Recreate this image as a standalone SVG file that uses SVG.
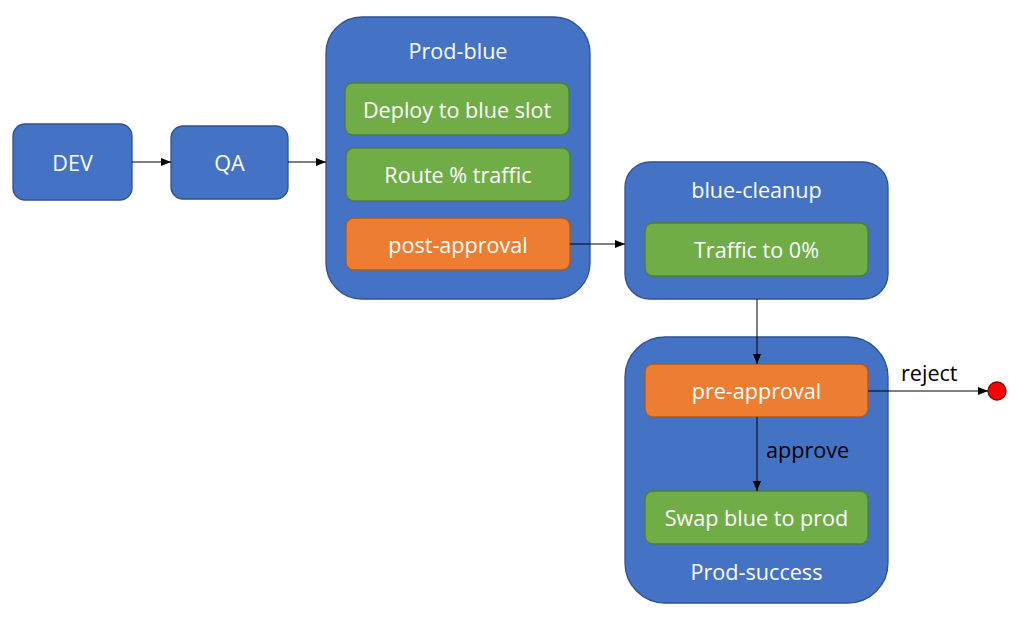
<svg xmlns="http://www.w3.org/2000/svg" width="1024" height="621" viewBox="0 0 1024 621">
<style>
.blue{fill:#4472C4;stroke:#2F528F;stroke-width:1.3}
.green{fill:#70AD47;stroke:#507E32;stroke-width:1.3}
.orange{fill:#ED7D31;stroke:#AE5A21;stroke-width:1.3}
.t{font-family:"Open Sans","Noto Sans",sans-serif;font-size:21.6px;fill:#fff;text-anchor:middle;dominant-baseline:central}
.lbl{font-family:"Open Sans","Noto Sans",sans-serif;font-size:21.6px;fill:#000;dominant-baseline:central}
.c{stroke:#000;stroke-width:1;fill:none;marker-end:url(#ah)}
</style>
<defs>
<marker id="ah" markerWidth="10" markerHeight="8" refX="10" refY="4" orient="auto" markerUnits="userSpaceOnUse">
<path d="M0,0 L10,4 L0,8 Z" fill="#000"/>
</marker>
</defs>
<rect width="1024" height="621" fill="#fff"/>
<g id="dev"><rect class="blue" x="13" y="124" width="119" height="76" rx="12"/><text class="t" x="72.5" y="162">DEV</text></g>
<g id="qa"><rect class="blue" x="171" y="126" width="117" height="73" rx="12"/><text class="t" x="229.5" y="162">QA</text></g>
<g id="prod-blue"><rect class="blue" x="326" y="17" width="264" height="282" rx="36"/><text class="t" x="458" y="50">Prod-blue</text>
<g id="deploy"><rect class="green" x="345" y="83" width="224" height="52" rx="8"/><text class="t" x="457" y="109">Deploy to blue slot</text></g>
<g id="route"><rect class="green" x="346" y="148" width="224" height="53" rx="8"/><text class="t" x="458" y="174.5">Route % traffic</text></g>
<g id="post-approval"><rect class="orange" x="346" y="218" width="224" height="52" rx="8"/><text class="t" x="458" y="244">post-approval</text></g>
</g>
<g id="blue-cleanup"><rect class="blue" x="625" y="162" width="263" height="137" rx="25"/><text class="t" x="756.5" y="189">blue-cleanup</text>
<g id="traffic"><rect class="green" x="645" y="223" width="223" height="53" rx="8"/><text class="t" x="756.5" y="249.5">Traffic to 0%</text></g>
</g>
<g id="prod-success"><rect class="blue" x="625" y="337" width="263" height="266" rx="40"/><text class="t" x="756.5" y="571">Prod-success</text>
<g id="pre-approval"><rect class="orange" x="645" y="364" width="223" height="53" rx="8"/><text class="t" x="756.5" y="390.5">pre-approval</text></g>
<g id="swap"><rect class="green" x="645" y="491" width="223" height="53" rx="8"/><text class="t" x="756.5" y="517.5">Swap blue to prod</text></g>
</g>
<g id="end"><circle cx="997" cy="391" r="9" fill="#FF0000" stroke="#7F0000" stroke-width="1.3"/></g>
<g id="connectors">
<line class="c" x1="132" y1="162" x2="171" y2="162"/>
<line class="c" x1="288" y1="162" x2="326" y2="162"/>
<line class="c" x1="570" y1="244" x2="625" y2="244"/>
<line class="c" x1="757" y1="299" x2="757" y2="364"/>
<line class="c" x1="757" y1="417" x2="757" y2="491"/>
<line class="c" x1="868" y1="391" x2="988" y2="391"/>
<text class="lbl" x="766" y="449">approve</text>
<text class="lbl" x="901" y="372">reject</text>
</g>
</svg>
